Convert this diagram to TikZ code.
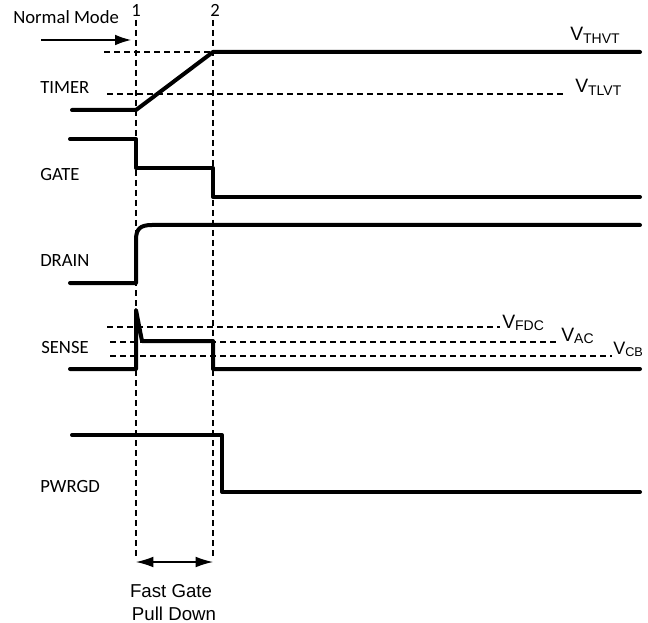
\documentclass[tikz,border=0pt]{standalone}
\usepackage{fontspec}
\setmainfont{Carlito}
\newfontfamily\arialfont{Liberation Sans}
\usetikzlibrary{arrows.meta}

\tikzset{
  senal/.style={line width=3pt, line join=round, line cap=round},
  guia/.style={line width=0.9pt, dash pattern=on 4.5pt off 3pt},
  rotulo/.style={font=\fontsize{14}{16}\selectfont, inner sep=0pt, anchor=base west},
  umbral/.style={font=\arialfont\fontsize{14.5}{16}\selectfont, inner sep=0pt, anchor=base west},
  nota/.style={font=\arialfont\fontsize{14}{16}\selectfont, inner sep=0pt, anchor=base},
  flecha/.style={line width=0.9pt},
}
\newcommand{\vsub}[1]{V\raisebox{-0.25ex}{\fontsize{10.5}{11}\selectfont #1}}

\begin{document}
\begin{tikzpicture}[x=0.75pt,y=-0.75pt]
  % Marco de la imagen (en pixeles)
  \useasboundingbox (0,0) rectangle (648,623);

  % Instantes 1 y 2
  \def\ta{136}
  \def\tb{213}

  % Lineas verticales de referencia
  \draw[guia] (\ta,20) -- (\ta,556);
  \draw[guia] (\tb,20) -- (\tb,556);
  \node[rotulo, anchor=base] (uno) at (\ta,17) {1};
  \node[rotulo, anchor=base] (dos) at (\tb+2,17) {2};

  % Modo normal
  \node[rotulo] (normal) at (13,24) {Normal Mode};
  \coordinate (nmA) at (41,40);
  \coordinate (nmB) at (131,40);
  \draw[flecha, -{Latex[length=12pt,width=8pt]}] (nmA) -- (nmB);

  % TIMER y sus umbrales
  \draw[guia] (104,52) -- (\tb,52);
  \draw[guia] (107,94) -- (564,94);
  \node[umbral] (vthvt) at (570,41) {\vsub{THVT}};
  \node[umbral] (vtlvt) at (575,93) {\vsub{TLVT}};
  \node[rotulo] (timer) at (40,94) {TIMER};
  \draw[senal] (72,110) -- (\ta,110) -- (\tb,52) -- (640,52);

  % GATE
  \node[rotulo] (gate) at (40,181) {GATE};
  \draw[senal] (70,139) -- (\ta,139) -- (\ta,168) -- (\tb,168) -- (\tb,197) -- (640,197);

  % DRAIN
  \node[rotulo] (drain) at (40,267) {DRAIN};
  \draw[senal] (70,283) -- (\ta,283) -- (\ta,240)
    .. controls (\ta,229) and (140,225) .. (152,225) -- (640,225);

  % SENSE y sus umbrales
  \draw[guia] (107,327) -- (500,327);
  \draw[guia] (110,342) -- (560,342);
  \draw[guia] (110,356) -- (612,356);
  \node[umbral] (vfdc) at (502,328) {\vsub{FDC}};
  \node[umbral] (vac) at (561,341) {\vsub{AC}};
  \node[umbral, font=\arialfont\fontsize{13.5}{16}\selectfont] (vcb) at (613,354) {V\raisebox{-0.25ex}{\fontsize{9.5}{10}\selectfont CB}};
  \node[rotulo] (sense) at (41,353) {SENSE};
  \draw[senal] (70,369) -- (\ta,369) -- (\ta,310) -- (142,341) -- (\tb,341)
    -- (\tb,369) -- (640,369);

  % PWRGD
  \node[rotulo] (pwrgd) at (40,492) {PWRGD};
  \draw[senal] (72,435) -- (222,435) -- (222,492) -- (640,492);

  % Intervalo de descarga rapida
  \coordinate (fgA) at (\ta,562);
  \coordinate (fgB) at (\tb,562);
  \draw[flecha, {Latex[length=13pt,width=8pt]}-{Latex[length=13pt,width=8pt]}] (fgA) -- (fgB);
  \node[nota] (fast) at (171,597) {Fast Gate};
  \node[nota] (pull) at (174,620) {Pull Down};
\end{tikzpicture}
\end{document}
